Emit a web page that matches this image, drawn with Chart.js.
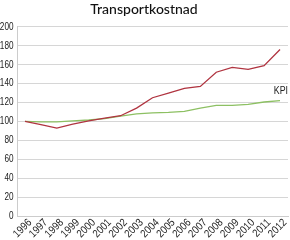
<!DOCTYPE html>
<html>
<head>
<meta charset="utf-8">
<script src="https://cdn.jsdelivr.net/npm/chart.js@4/dist/chart.umd.min.js"></script>
<style>
  html, body { margin: 0; padding: 0; background: #fff; }
  #wrap { width: 290px; height: 240px; }
</style>
</head>
<body>
<div id="wrap"><canvas id="myChart"></canvas></div>
<script>
const years = ["1996", "1997", "1998", "1999", "2000", "2001", "2002", "2003", "2004",
  "2005", "2006", "2007", "2008", "2009", "2010", "2011", "2012"];
const transport = [100, 96.5, 93, 97, 100.5, 103.5, 106, 114, 125, 130, 135, 137, 152, 157, 155, 159, 176];
const kpi = [100, 99.5, 99.5, 100.5, 101.5, 103, 105.5, 108, 109, 109.5, 110.5, 114, 117, 117, 118, 120.5, 122];
const yTicks = [0, 20, 40, 60, 80, 100, 120, 140, 160, 180, 200];

const fontName = "'Liberation Sans', Arial, sans-serif";
const squeeze = 0.78; // the original uses a narrow font, none is installed

// tick labels drawn by hand so they can be squeezed like a narrow font
const axisLabels = {
  id: "axisLabels",
  afterDraw(chart) {
    const ctx = chart.ctx;
    const x = chart.scales.x;
    const y = chart.scales.y;
    ctx.save();
    ctx.fillStyle = "#222";
    ctx.textAlign = "right";
    ctx.textBaseline = "middle";
    ctx.font = "10.5px " + fontName;
    y.ticks.forEach((t, i) => {
      ctx.save();
      ctx.translate(13.5, y.getPixelForTick(i));
      ctx.scale(squeeze, 1);
      ctx.fillText(String(t.value), 0, 0);
      ctx.restore();
    });
    ctx.font = "11px " + fontName;
    x.ticks.forEach((t, i) => {
      ctx.save();
      ctx.translate(x.getPixelForTick(i) + 5, x.top + 5);
      ctx.rotate(-Math.PI / 4);
      ctx.scale(0.86, 1);
      ctx.fillText(years[i], 0, 0);
      ctx.restore();
    });
    // "KPI" next to the end of the green line
    const meta = chart.getDatasetMeta(1);
    const pt = meta.data[meta.data.length - 1];
    ctx.font = "10.5px " + fontName;
    ctx.translate(288, pt.y - 9);
    ctx.scale(0.84, 1);
    ctx.fillText("KPI", 0, 0);
    ctx.restore();
  }
};

new Chart(document.getElementById("myChart").getContext("2d"), {
  type: "line",
  data: {
    labels: years,
    datasets: [
      {
        label: "Transport",
        data: transport,
        borderColor: "#b03440",
        borderWidth: 1.3,
        pointRadius: 0,
        fill: false,
        tension: 0
      },
      {
        label: "KPI",
        data: kpi,
        borderColor: "#8dc063",
        borderWidth: 1.3,
        pointRadius: 0,
        fill: false,
        tension: 0
      }
    ]
  },
  options: {
    responsive: true,
    maintainAspectRatio: false,
    animation: false,
    layout: { padding: { left: 0, right: 2, top: 0, bottom: 0 } },
    plugins: {
      legend: { display: false },
      tooltip: { enabled: false },
      title: {
        display: true,
        text: "Transportkostnad",
        color: "#111",
        font: { family: "Lato, 'Noto Sans', sans-serif", size: 14, weight: "500" },
        padding: { top: 1, bottom: 9 }
      }
    },
    scales: {
      x: {
        offset: true,
        grid: { display: false, drawTicks: false },
        border: { display: true, color: "#ccc" },
        afterFit: (axis) => { axis.height = 24; },
        ticks: { display: false, autoSkip: false }
      },
      y: {
        min: 0,
        max: 200,
        afterBuildTicks: (axis) => { axis.ticks = yTicks.map(v => ({ value: v })); },
        afterFit: (axis) => { axis.width = 17; },
        grid: { color: "#d6d6d6", drawTicks: false },
        border: { display: true, color: "#ccc" },
        ticks: { display: false }
      }
    }
  },
  plugins: [axisLabels]
});
</script>
</body>
</html>
